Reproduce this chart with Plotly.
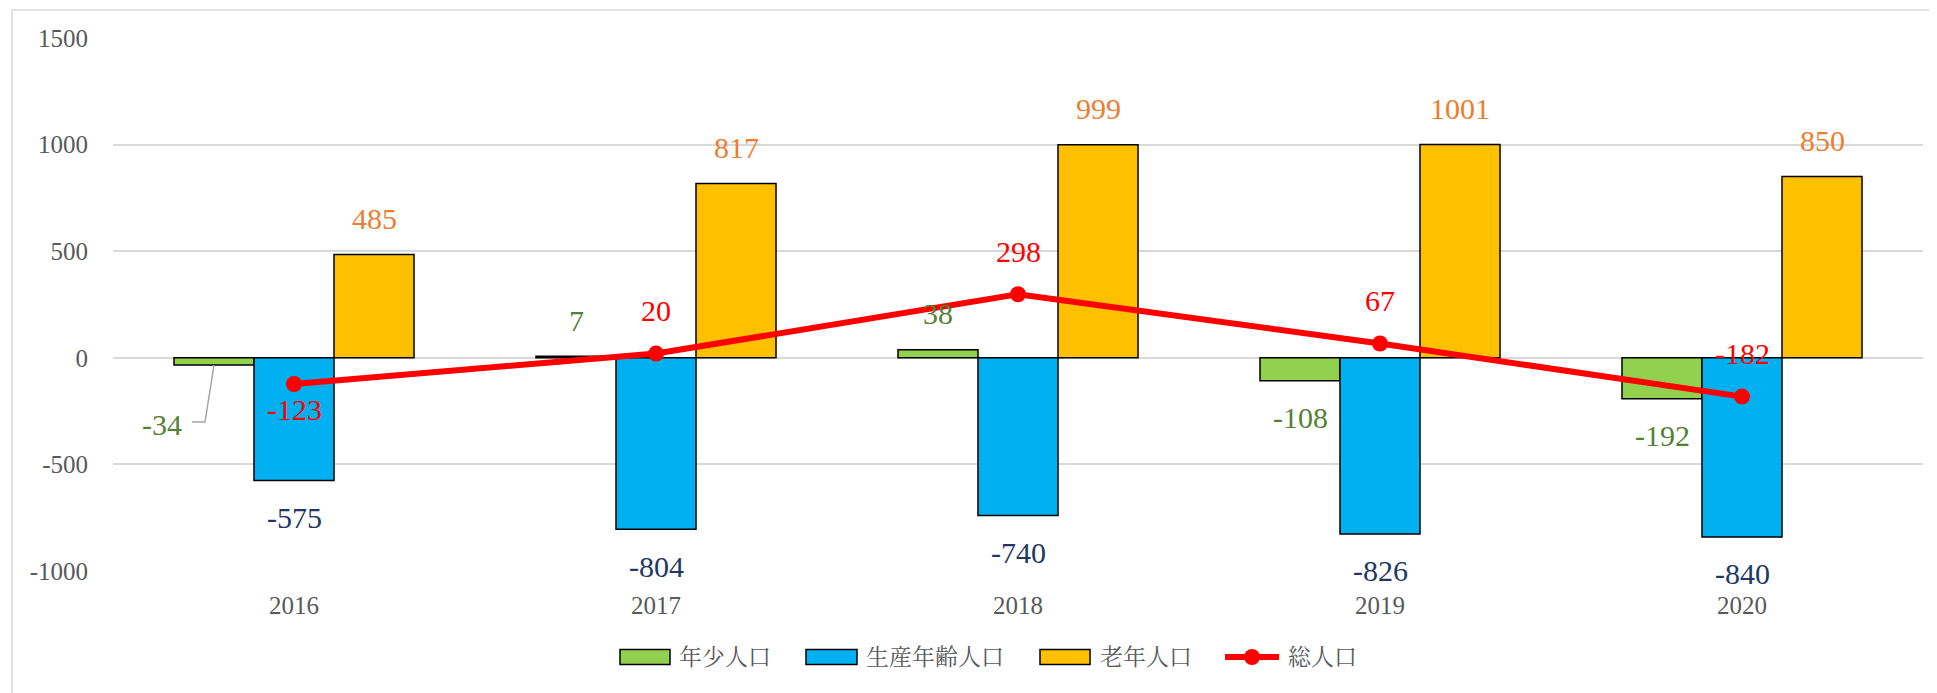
import plotly.graph_objects as go

years = ["2016", "2017", "2018", "2019", "2020"]
young = [-34, 7, 38, -108, -192]
working = [-575, -804, -740, -826, -840]
elderly = [485, 817, 999, 1001, 850]
total = [-123, 20, 298, 67, -182]
y_ticks = [-1000, -500, 0, 500, 1000, 1500]

names = ["年少人口", "生産年齢人口", "老年人口", "総人口"]
bar_colors = ["#92D050", "#00B0F0", "#FFC000"]
line_color = "#FF0000"
label_colors = ["#548235", "#1F3864", "#ED7D31"]
FONT = "Liberation Serif, Noto Serif CJK JP, Noto Sans CJK JP, serif"

# plot-area geometry (screen px) used to place decorations
PLOT_L, PLOT_R, PLOT_T, PLOT_B = 111.0, 1921.0, 38.0, 571.0
PX_PER_CAT = (PLOT_R - PLOT_L) / len(years)
UNITS_PER_PX = 2500.0 / (PLOT_B - PLOT_T)


def px_x(px):
    return (px - PLOT_L) / (PLOT_R - PLOT_L)


def px_y(py):
    return (PLOT_B - py) / (PLOT_B - PLOT_T)


fig = go.Figure()
for name, vals, col in zip(names[:3], [young, working, elderly], bar_colors):
    fig.add_trace(go.Bar(x=years, y=vals, name=name, showlegend=False,
                         marker=dict(color=col, line=dict(color="black", width=1.5))))
fig.add_trace(go.Scatter(x=years, y=total, name=names[3], mode="lines+markers", showlegend=False,
                         line=dict(color=line_color, width=6),
                         marker=dict(color=line_color, size=16)))

annotations = []
bar_offsets = [-80, 0, 80]
for s_idx, (series, off, lc) in enumerate(zip([young, working, elderly], bar_offsets, label_colors)):
    for i, v in enumerate(series):
        if s_idx == 0 and i == 0:
            annotations.append(dict(x=i, y=v, xref="x", yref="y", text=str(v), showarrow=False,
                                    xshift=-132, yshift=-59,
                                    font=dict(family=FONT, size=30, color=lc)))
            continue
        annotations.append(dict(x=i, y=v, xref="x", yref="y", text=str(v), showarrow=False,
                                xshift=off, yshift=36 if v >= 0 else -37,
                                font=dict(family=FONT, size=30, color=lc)))
for i, v in enumerate(total):
    annotations.append(dict(x=i, y=v, xref="x", yref="y", text=str(v), showarrow=False,
                            xshift=0, yshift=-25 if i == 0 else 43,
                            font=dict(family=FONT, size=30, color=line_color)))

# leader line for the 2016 young label (category index 0)
lx0 = 0 - 80 / PX_PER_CAT
lx1 = 0 - 89 / PX_PER_CAT
lx2 = 0 - 102 / PX_PER_CAT
ly0 = young[0]
ly1 = young[0] - 57 * UNITS_PER_PX
leader = f"M {lx0:.4f},{ly0:.2f} L {lx1:.4f},{ly1:.2f} L {lx2:.4f},{ly1:.2f}"

shapes = [
    dict(type="rect", xref="paper", yref="paper", x0=px_x(10), x1=px_x(1935), y0=px_y(720), y1=px_y(10),
         line=dict(color="#D9D9D9", width=1.5), fillcolor="rgba(0,0,0,0)", layer="below"),
    dict(type="path", xref="x", yref="y", path=leader,
         line=dict(color="#A6A6A6", width=1.5)),
]

# manual legend (Excel style: wide swatches)
LEG_Y = 657
legend_items = [  # swatch start px, swatch end px, text start px
    (618, 668, 675),
    (804, 855, 862),
    (1038, 1088, 1096),
]
for (s0, s1, t0), name, col in zip(legend_items, names[:3], bar_colors):
    shapes.append(dict(type="rect", xref="paper", yref="paper",
                       x0=px_x(s0), x1=px_x(s1), y0=px_y(LEG_Y + 7.5), y1=px_y(LEG_Y - 7.5),
                       fillcolor=col, line=dict(color="black", width=1.5)))
    annotations.append(dict(x=px_x(t0), y=px_y(LEG_Y), xref="paper", yref="paper", text=name,
                            showarrow=False, xanchor="left", yanchor="middle",
                            font=dict(family=FONT, size=23, color="#595959")))
shapes.append(dict(type="line", xref="paper", yref="paper", x0=px_x(1223), x1=px_x(1277),
                   y0=px_y(LEG_Y), y1=px_y(LEG_Y), line=dict(color=line_color, width=6)))
shapes.append(dict(type="circle", xref="paper", yref="paper", x0=px_x(1242), x1=px_x(1258),
                   y0=px_y(LEG_Y + 8), y1=px_y(LEG_Y - 8), fillcolor=line_color,
                   line=dict(color=line_color, width=0)))
annotations.append(dict(x=px_x(1284), y=px_y(LEG_Y), xref="paper", yref="paper", text=names[3],
                        showarrow=False, xanchor="left", yanchor="middle",
                        font=dict(family=FONT, size=23, color="#595959")))

fig.update_layout(
    width=1937, height=693,
    margin=dict(l=105, r=22, t=30, b=130),
    plot_bgcolor="white", paper_bgcolor="white",
    barmode="group", bargap=0.337, bargroupgap=0,
    font=dict(family=FONT, color="#595959"),
    showlegend=False,
    xaxis=dict(type="category", range=[-0.5, 4.5], showgrid=False, showline=False, ticks="",
               ticklabelstandoff=17, tickfont=dict(family=FONT, size=25, color="#595959")),
    yaxis=dict(range=[-1000, 1500], tickvals=y_ticks, ticktext=[str(v) for v in y_ticks],
               showgrid=True, gridcolor="#D9D9D9",
               gridwidth=1.5, zeroline=True, zerolinecolor="#D9D9D9", zerolinewidth=1.5,
               showline=False, ticks="", ticklabelstandoff=24,
               tickfont=dict(family=FONT, size=25, color="#595959")),
    annotations=annotations,
    shapes=shapes,
)

fig.write_html("out.html")
